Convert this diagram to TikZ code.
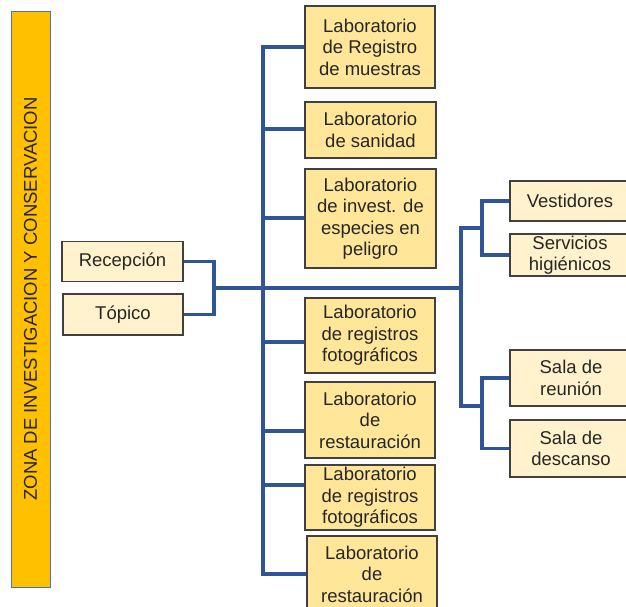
\documentclass[tikz,border=0pt]{standalone}
\usepackage{fontspec}
\setmainfont{Liberation Sans}
\definecolor{barfill}{HTML}{FFC000}
\definecolor{barline}{HTML}{4472C4}
\definecolor{labfill}{HTML}{FFE699}
\definecolor{lightfill}{HTML}{FFF2CC}
\definecolor{boxline}{HTML}{404040}
\definecolor{conn}{HTML}{2F5597}
\definecolor{txt}{HTML}{262626}
\tikzset{
  basebox/.style={draw=boxline, line width=1.4pt, inner sep=0pt, align=center, text=txt,
    font=\fontsize{18.5}{21.5}\selectfont},
  labbox/.style={basebox, fill=labfill},
  smallbox/.style={basebox, fill=lightfill},
  wire/.style={draw=conn, line width=3.3pt},
}
\begin{document}
\begin{tikzpicture}[x=1pt,y=-1pt]
\useasboundingbox (0,0) rectangle (626,607);

% vertical title bar
\node[rotate=90, minimum width=576pt, minimum height=39pt, fill=barfill, draw=barline, line width=0.9pt,
  inner sep=0pt, text=txt, font=\fontsize{18.5}{21.5}\selectfont] (bar) at (30.5,299)
  {ZONA DE INVESTIGACION Y CONSERVACION};

% left boxes
\node[smallbox, minimum width=121pt, minimum height=40pt] (rec) at (122.5,261.5) {Recepción};
\node[smallbox, minimum width=120pt, minimum height=41pt] (top) at (123,314.5) {Tópico};

% lab boxes
\node[labbox, minimum width=130pt, minimum height=82pt] (l1) at (370,47) {Laboratorio\\de Registro\\de muestras};
\node[labbox, minimum width=131pt, minimum height=56pt] (l2) at (370.5,130) {Laboratorio\\de sanidad};
\node[labbox, minimum width=131pt, minimum height=99pt] (l3) at (370.5,218.5) {Laboratorio\\de invest. de\\especies en\\peligro};
\node[labbox, minimum width=130pt, minimum height=75pt] (l4) at (370,335.5) {Laboratorio\\de registros\\fotográficos};
\node[labbox, minimum width=130pt, minimum height=76pt] (l5) at (370,420) {Laboratorio\\de\\restauración};
\node[labbox, minimum width=130pt, minimum height=65pt] (l6) at (370,497.5) {Laboratorio\\de registros\\fotográficos};
\node[labbox, minimum width=130pt, minimum height=76pt] (l7) at (372,574) {Laboratorio\\de\\restauración};

% right boxes
\node[smallbox, minimum width=120pt, minimum height=40pt] (ves) at (570,201) {Vestidores};
\node[smallbox, minimum width=120pt, minimum height=42pt] (ser) at (570,255) {Servicios\\higiénicos};
\node[smallbox, minimum width=122pt, minimum height=56pt] (sr) at (571,378) {Sala de\\reunión};
\node[smallbox, minimum width=122pt, minimum height=57pt] (sd) at (571,448.5) {Sala de\\descanso};

% coordinates
\coordinate (brk) at (214,288);
\coordinate (bt) at (263,47);
\coordinate (bb) at (263,574);
\coordinate (b2) at (263,129);
\coordinate (b3) at (263,218);
\coordinate (b4) at (263,342);
\coordinate (b5) at (263,431);
\coordinate (b6) at (263,485);
\coordinate (rt) at (461,228);
\coordinate (rb) at (461,406);
\coordinate (st) at (482,228);
\coordinate (sb) at (482,406);

% connectors
\draw[wire] (rec.east) -| (brk) |- (top.east);
\draw[wire] (brk) -- (brk -| rt);
\draw[wire] (l1.west) -- (bt) -- (bb) -- (l7.west);
\draw[wire] (b2) -- (b2 -| l2.west);
\draw[wire] (b3) -- (b3 -| l3.west);
\draw[wire] (b4) -- (b4 -| l4.west);
\draw[wire] (b5) -- (b5 -| l5.west);
\draw[wire] (b6) -- (b6 -| l6.west);
\draw[wire] (st) -- (rt) -- (rb) -- (sb);
\draw[wire] (ves.west) -| (st) |- (ser.west);
\draw[wire] (sr.west) -| (sb) |- (sd.west);
\end{tikzpicture}
\end{document}
